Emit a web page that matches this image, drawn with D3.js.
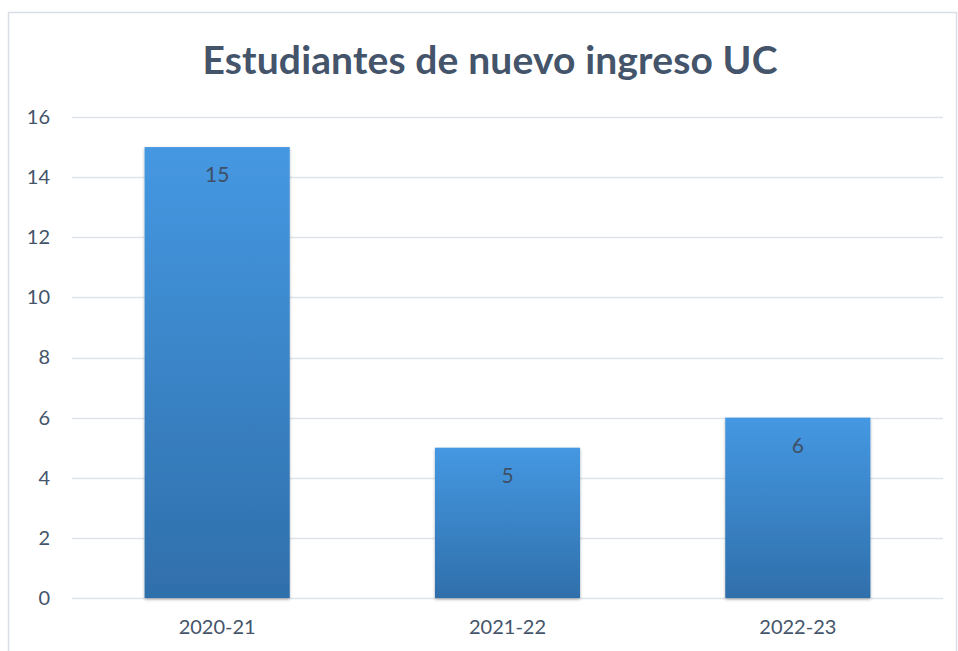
<!DOCTYPE html>
<html lang="en">
<head>
<meta charset="utf-8">
<title>Estudiantes de nuevo ingreso UC</title>
<script src="https://d3js.org/d3.v7.min.js"></script>
<style>
  body { margin: 0; background: #fff; }
  text { font-family: Lato, "Open Sans", sans-serif; }
</style>
</head>
<body>
<script>
// data
var categories = ["2020-21", "2021-22", "2022-23"];
var values = [15, 5, 6];
var yTicks = [0, 2, 4, 6, 8, 10, 12, 14, 16];
var title = "Estudiantes de nuevo ingreso UC";

var w = 958, h = 651;
var margin = {left: 72, right: 15, top: 117, bottom: 53};

var svg = d3.select("body").append("svg")
  .attr("width", w)
  .attr("height", h);

// gradient + shadow
var defs = svg.append("defs");
var grad = defs.append("linearGradient")
  .attr("id", "barGrad")
  .attr("x1", 0).attr("y1", 0).attr("x2", 0).attr("y2", 1);
grad.append("stop").attr("offset", "0%").attr("stop-color", "#4598e2");
grad.append("stop").attr("offset", "100%").attr("stop-color", "#2f6fab");

var shadow = defs.append("filter").attr("id", "shadow")
  .attr("x", "-10%").attr("y", "-10%").attr("width", "120%").attr("height", "120%");
shadow.append("feDropShadow")
  .attr("dx", 0).attr("dy", 1.5).attr("stdDeviation", 1.5)
  .attr("flood-color", "#000").attr("flood-opacity", 0.3);

// chart border
svg.append("rect")
  .attr("x", 8.5).attr("y", 12.5)
  .attr("width", w - 10).attr("height", h)
  .attr("fill", "#fff")
  .attr("stroke", "#d9dee6")
  .attr("stroke-width", 1.5);

var x = d3.scaleBand()
  .domain(categories)
  .range([margin.left, w - margin.right])
  .paddingInner(0.5)
  .paddingOuter(0.25);

var y = d3.scaleLinear()
  .domain([0, 16])
  .range([h - margin.bottom, margin.top]);

// grid
svg.append("g")
  .selectAll("line")
  .data(yTicks)
  .join("line")
  .attr("x1", margin.left)
  .attr("x2", w - margin.right)
  .attr("y1", function(d) { return Math.round(y(d)) + 0.5; })
  .attr("y2", function(d) { return Math.round(y(d)) + 0.5; })
  .attr("stroke", "#dfe3ea")
  .attr("stroke-width", 1.5);

// y axis labels
var yAxis = d3.axisLeft(y).tickValues(yTicks).tickSize(0).tickPadding(0);
var gy = svg.append("g")
  .attr("transform", "translate(50,0)")
  .call(yAxis);
gy.select(".domain").remove();
gy.selectAll("text")
  .attr("fill", "#44546a")
  .style("font-size", "20px");

// x axis labels
var xAxis = d3.axisBottom(x).tickSize(0).tickPadding(0);
var gx = svg.append("g")
  .attr("transform", "translate(0," + (h - margin.bottom + 22) + ")")
  .call(xAxis);
gx.select(".domain").remove();
gx.selectAll("text")
  .attr("fill", "#44546a")
  .style("font-size", "20px");

// bars
svg.append("g")
  .selectAll("rect")
  .data(values)
  .join("rect")
  .attr("x", function(d, i) { return x(categories[i]); })
  .attr("y", function(d) { return y(d); })
  .attr("width", x.bandwidth())
  .attr("height", function(d) { return y(0) - y(d); })
  .attr("fill", "url(#barGrad)")
  .attr("filter", "url(#shadow)");

// value labels
svg.append("g")
  .selectAll("text")
  .data(values)
  .join("text")
  .attr("x", function(d, i) { return x(categories[i]) + x.bandwidth() / 2; })
  .attr("y", function(d) { return y(d) + 35; })
  .attr("text-anchor", "middle")
  .attr("fill", "#3f4f66")
  .style("font-size", "21px")
  .text(function(d) { return d; });

// title
svg.append("text")
  .attr("x", 490)
  .attr("y", 74)
  .attr("text-anchor", "middle")
  .attr("fill", "#44546a")
  .style("font-size", "39px")
  .style("font-weight", "bold")
  .attr("textLength", 575)
  .text(title);
</script>
</body>
</html>
